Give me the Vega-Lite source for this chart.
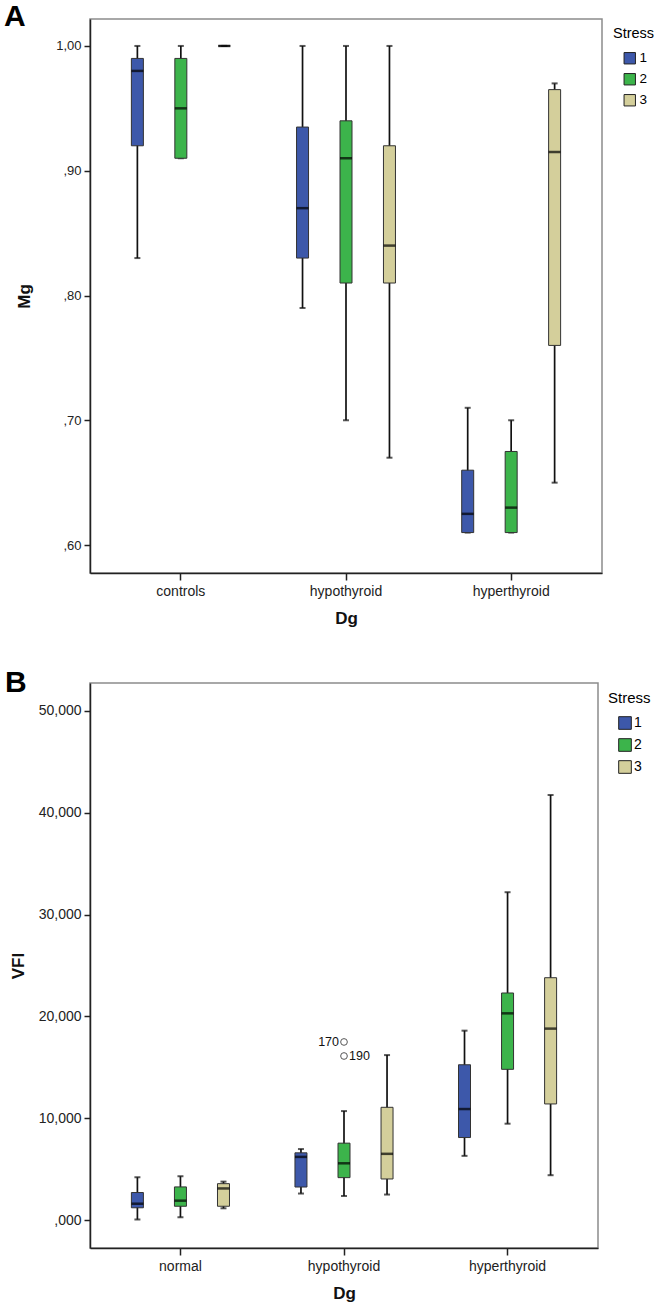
{
  "$schema": "https://vega.github.io/schema/vega-lite/v6.json",
  "padding": {"left": 3, "top": 1, "right": 0, "bottom": 0},
  "background": "white",
  "datasets": {
    "mg": [
      {"Dg": "controls", "Stress": "1", "lower": 0.83, "q1": 0.92, "median": 0.98, "q3": 0.99, "upper": 1.0},
      {"Dg": "controls", "Stress": "2", "lower": 0.91, "q1": 0.91, "median": 0.95, "q3": 0.99, "upper": 1.0},
      {"Dg": "controls", "Stress": "3", "lower": 1.0, "q1": 1.0, "median": 1.0, "q3": 1.0, "upper": 1.0},
      {"Dg": "hypothyroid", "Stress": "1", "lower": 0.79, "q1": 0.83, "median": 0.87, "q3": 0.935, "upper": 1.0},
      {"Dg": "hypothyroid", "Stress": "2", "lower": 0.70, "q1": 0.81, "median": 0.91, "q3": 0.94, "upper": 1.0},
      {"Dg": "hypothyroid", "Stress": "3", "lower": 0.67, "q1": 0.81, "median": 0.84, "q3": 0.92, "upper": 1.0},
      {"Dg": "hyperthyroid", "Stress": "1", "lower": 0.61, "q1": 0.61, "median": 0.625, "q3": 0.66, "upper": 0.71},
      {"Dg": "hyperthyroid", "Stress": "2", "lower": 0.61, "q1": 0.61, "median": 0.63, "q3": 0.675, "upper": 0.70},
      {"Dg": "hyperthyroid", "Stress": "3", "lower": 0.65, "q1": 0.76, "median": 0.915, "q3": 0.965, "upper": 0.97}
    ],
    "vfi": [
      {"Dg": "normal", "Stress": "1", "lower": 0.05, "q1": 1.2, "median": 1.6, "q3": 2.7, "upper": 4.2},
      {"Dg": "normal", "Stress": "2", "lower": 0.27, "q1": 1.35, "median": 1.9, "q3": 3.25, "upper": 4.3},
      {"Dg": "normal", "Stress": "3", "lower": 1.15, "q1": 1.35, "median": 3.1, "q3": 3.57, "upper": 3.77},
      {"Dg": "hypothyroid", "Stress": "1", "lower": 2.6, "q1": 3.24, "median": 6.2, "q3": 6.6, "upper": 6.97},
      {"Dg": "hypothyroid", "Stress": "2", "lower": 2.36, "q1": 4.16, "median": 5.57, "q3": 7.55, "upper": 10.7},
      {"Dg": "hypothyroid", "Stress": "3", "lower": 2.5, "q1": 4.03, "median": 6.5, "q3": 11.07, "upper": 16.2},
      {"Dg": "hyperthyroid", "Stress": "1", "lower": 6.3, "q1": 8.1, "median": 10.9, "q3": 15.25, "upper": 18.6},
      {"Dg": "hyperthyroid", "Stress": "2", "lower": 9.46, "q1": 14.8, "median": 20.3, "q3": 22.3, "upper": 32.2},
      {"Dg": "hyperthyroid", "Stress": "3", "lower": 4.4, "q1": 11.4, "median": 18.8, "q3": 23.8, "upper": 41.75}
    ],
    "vfiOut": [
      {"Dg": "hypothyroid", "Stress": "2", "value": 17.49, "id": "170"},
      {"Dg": "hypothyroid", "Stress": "2", "value": 16.11, "id": "190"}
    ]
  },
  "vconcat": [
    {
      "width": 512,
      "height": 554,
      "title": {"text": "A", "anchor": "start", "frame": "group", "fontSize": 30, "fontWeight": "bold", "dx": -86, "offset": -13, "color": "black"},
      "data": {"name": "mg"},
      "encoding": {
        "x": {"field": "Dg", "type": "nominal", "sort": ["controls", "hypothyroid", "hyperthyroid"], "scale": {"paddingInner": 0, "paddingOuter": 0.05}, "axis": {"title": "Dg", "labelAngle": 0, "labelFontSize": 14, "tickSize": 7, "labelPadding": 4, "titlePadding": 12}},
        "xOffset": {"field": "Stress", "type": "nominal", "sort": ["1", "2", "3"], "scale": {"paddingInner": 0, "paddingOuter": 0.4}}
      },
      "layer": [
        {"mark": {"type": "rule", "color": "#111", "strokeWidth": 1.7}, "encoding": {"y": {"field": "lower", "type": "quantitative", "title": "Mg", "scale": {"domain": [0.5776, 1.0216], "nice": false, "zero": false}, "axis": {"values": [0.6, 0.7, 0.8, 0.9, 1.0], "labelExpr": "datum.value < 1 ? replace(format(datum.value, '.2f'), '0.', ',') : replace(format(datum.value, '.2f'), '.', ',')", "labelFontSize": 13, "tickSize": 6, "labelPadding": 3, "titlePadding": 22}}, "y2": {"field": "upper"}}},
        {"mark": {"type": "tick", "color": "#111", "size": 6, "thickness": 2}, "encoding": {"y": {"field": "lower", "type": "quantitative", "title": "Mg"}}},
        {"mark": {"type": "tick", "color": "#111", "size": 6, "thickness": 2}, "encoding": {"y": {"field": "upper", "type": "quantitative", "title": "Mg"}}},
        {"mark": {"type": "bar", "width": 12, "stroke": "#333", "strokeWidth": 1}, "encoding": {"y": {"field": "q1", "type": "quantitative", "title": "Mg"}, "y2": {"field": "q3"}, "color": {"field": "Stress", "type": "nominal", "scale": {"domain": ["1", "2", "3"], "range": ["#3d58aa", "#3cb44b", "#d4cf9b"]}, "legend": {"title": "Stress", "offset": 3, "padding": 8, "symbolType": "square", "symbolSize": 130, "symbolStrokeColor": "#222", "symbolStrokeWidth": 1, "labelFontSize": 13.5, "titleFontSize": 14.5, "titleFontWeight": "normal", "symbolOffset": 10, "rowPadding": 5, "titlePadding": 10, "labelOffset": 3}}}},
        {"mark": {"type": "tick", "color": "#000", "size": 12, "thickness": 2.5}, "encoding": {"y": {"field": "median", "type": "quantitative", "title": "Mg"}}}
      ]
    },
    {
      "width": 508,
      "height": 565,
      "title": {"text": "B", "anchor": "start", "frame": "group", "fontSize": 30, "fontWeight": "bold", "dx": -85, "offset": -15, "color": "black"},
      "data": {"name": "vfi"},
      "encoding": {
        "x": {"field": "Dg", "type": "nominal", "sort": ["normal", "hypothyroid", "hyperthyroid"], "scale": {"paddingInner": 0, "paddingOuter": 0.053}, "axis": {"title": "Dg", "labelAngle": 0, "labelFontSize": 14, "tickSize": 7, "labelPadding": 4, "titlePadding": 12}},
        "xOffset": {"field": "Stress", "type": "nominal", "sort": ["1", "2", "3"], "scale": {"paddingInner": 0, "paddingOuter": 0.4}}
      },
      "layer": [
        {"mark": {"type": "rule", "color": "#111", "strokeWidth": 1.7}, "encoding": {"y": {"field": "lower", "type": "quantitative", "title": "VFI", "scale": {"domain": [-2.75, 52.75], "nice": false, "zero": false}, "axis": {"values": [0, 10, 20, 30, 40, 50], "labelExpr": "datum.value == 0 ? ',000' : replace(format(datum.value, '.3f'), '.', ',')", "labelFontSize": 14, "tickSize": 6, "labelPadding": 3, "titlePadding": 11}}, "y2": {"field": "upper"}}},
        {"mark": {"type": "tick", "color": "#111", "size": 6, "thickness": 2}, "encoding": {"y": {"field": "lower", "type": "quantitative", "title": "VFI"}}},
        {"mark": {"type": "tick", "color": "#111", "size": 6, "thickness": 2}, "encoding": {"y": {"field": "upper", "type": "quantitative", "title": "VFI"}}},
        {"mark": {"type": "bar", "width": 12, "stroke": "#333", "strokeWidth": 1}, "encoding": {"y": {"field": "q1", "type": "quantitative", "title": "VFI"}, "y2": {"field": "q3"}, "color": {"field": "Stress", "type": "nominal", "scale": {"domain": ["1", "2", "3"], "range": ["#3d58aa", "#3cb44b", "#d4cf9b"]}, "legend": {"title": "Stress", "offset": 2, "padding": 8, "symbolType": "square", "symbolSize": 160, "symbolStrokeColor": "#222", "symbolStrokeWidth": 1, "labelFontSize": 14, "titleFontSize": 15, "titleFontWeight": "normal", "symbolOffset": 10, "rowPadding": 4, "titlePadding": 10, "labelOffset": 2}}}},
        {"mark": {"type": "tick", "color": "#000", "size": 12, "thickness": 2.5}, "encoding": {"y": {"field": "median", "type": "quantitative", "title": "VFI"}}},
        {"data": {"name": "vfiOut"}, "mark": {"type": "point", "shape": "circle", "filled": false, "stroke": "#111", "strokeWidth": 1, "size": 45}, "encoding": {"y": {"field": "value", "type": "quantitative", "title": "VFI"}}},
        {"data": {"name": "vfiOut"}, "transform": [{"filter": "datum.id == '170'"}], "mark": {"type": "text", "align": "right", "baseline": "middle", "dx": -5, "fontSize": 12.5, "color": "#111"}, "encoding": {"y": {"field": "value", "type": "quantitative", "title": "VFI"}, "text": {"field": "id"}}},
        {"data": {"name": "vfiOut"}, "transform": [{"filter": "datum.id == '190'"}], "mark": {"type": "text", "align": "left", "baseline": "middle", "dx": 5, "fontSize": 12.5, "color": "#111"}, "encoding": {"y": {"field": "value", "type": "quantitative", "title": "VFI"}, "text": {"field": "id"}}}
      ]
    }
  ],
  "spacing": 40,
  "resolve": {"scale": {"color": "independent", "x": "independent", "y": "independent", "xOffset": "independent"}, "legend": {"color": "independent"}},
  "config": {
    "font": "Liberation Sans",
    "view": {"stroke": "#8c8c8c", "strokeWidth": 1.5},
    "axis": {"grid": false, "domainColor": "#222", "domainWidth": 1.5, "tickColor": "#222", "tickWidth": 1.5, "labelColor": "#222", "titleColor": "#111", "titleFontWeight": "bold", "titleFontSize": 17}
  }
}
